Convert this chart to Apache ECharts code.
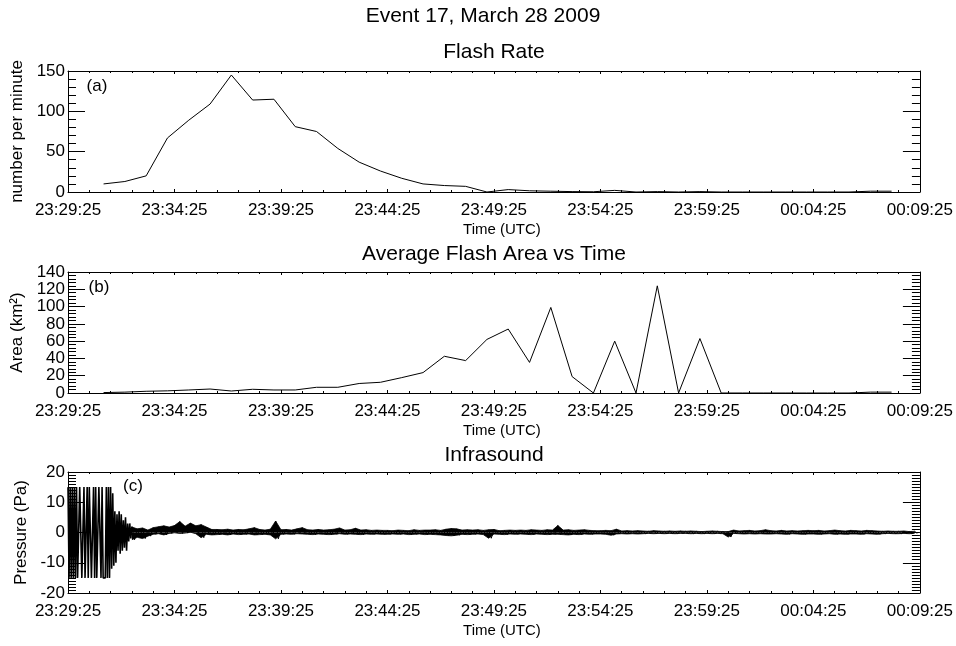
<!DOCTYPE html>
<html>
<head>
<meta charset="utf-8">
<title>Event 17, March 28 2009</title>
<script src="https://cdn.jsdelivr.net/npm/echarts@6/dist/echarts.min.js"></script>
<style>
  html, body { margin: 0; padding: 0; background: #fff; }
  #main { width: 956px; height: 646px; }
</style>
</head>
<body>
<div id="main"></div>
<script>
// x axis is minutes after 23:29:25 UTC
var timeLabels = ['23:29:25', '23:34:25', '23:39:25', '23:44:25', '23:49:25',
                  '23:54:25', '23:59:25', '00:04:25', '00:09:25'];

// (a) flash rate and (b) flash area, one value per minute starting 23:31:05
var lmaStart = 1.67;
var flashRate = [10, 13, 20, 67, 89, 109, 145, 114, 115, 81, 75, 54, 37, 26, 17, 10,
                 8, 7, 0, 3, 1.5, 1, 0.5, 0.3, 2, 0, 0.5, 0, 0.5, 0, 0, 0, 0, 0, 0, 0, 1, 1];
var flashArea = [0.5, 1, 2, 2.5, 3.5, 4.6, 2.3, 4.3, 3.5, 3.5, 6.6, 6.6, 11, 12.4, 17.8, 23.6,
                 42.5, 37.5, 62, 74, 35.4, 99, 19, 0, 60, 0, 124, 0, 63, 0, 0, 0, 0, 0, 0, 0, 1, 1];

// (c) infrasound: clipped burst at the start, every 3 s
var burstStep = 0.05;
var burstPa = [15, -15, 15, -15, 15, -15, 15, -15, 15, -15, -15, 15, 15, -15, -15, 15,
               -15, -15, 15, -15, 15, 15, -15, -15, 15, -15, 15, -15, -15, 15, 15, -15,
               15, -15, -15, -15, 15, -15, 15, -15, 15, -12, 13, -11, 7, -10, 6, -6,
               7, -7, 6, -6, 4, -5, 5, -6, 3, -3, 3, -2, 2];

// after that: high / low of the trace every 15 s from 3.0 min
var noiseStart = 3.0;
var noiseStep = 0.25;
var noiseHi = [1.8, 1.2, 1.5, 0.8, 1.6, 1.9, 2.2, 1.8,
               2.3, 3.6, 2.1, 3.1, 2.2, 2.6, 1.8, 1.0,
               1.0, 0.9, 1.1, 0.8, 1.0, 0.9, 1.2, 1.6,
               1.0, 0.8, 1.1, 3.8, 0.9, 1.0, 0.8, 1.2,
               1.6, 0.9, 0.8, 1.0, 0.8, 0.9, 1.1, 1.5,
               0.8, 0.9, 1.4, 0.8, 0.9, 0.7, 0.8, 0.7,
               0.7, 0.6, 0.8, 0.7, 0.6, 0.9, 0.7, 0.8,
               0.8, 0.9, 0.7, 1.1, 1.3, 1.2, 0.8, 0.9,
               0.8, 0.9, 0.7, 0.9, 1.0, 0.6, 0.7, 0.8,
               0.7, 0.8, 0.7, 0.9, 0.8, 0.7, 0.9, 0.8,
               2.3, 0.8, 0.9, 0.7, 0.8, 0.9, 0.7, 0.6,
               0.6, 0.7, 0.6, 1.1, 0.5, 0.6, 0.5, 0.6,
               0.5, 0.4, 0.6, 0.5, 0.4, 0.5, 0.4, 0.5,
               0.4, 0.5, 0.4, 0.3, 0.4, 0.5, 0.4, 0.3,
               0.3, 0.8, 0.5, 0.6, 0.7, 0.5, 0.6, 0.9,
               0.6, 0.5, 0.7, 0.5, 0.6, 0.5, 0.6, 0.7,
               0.6, 0.7, 0.5, 0.6, 0.8, 0.6, 0.5, 0.7,
               0.6, 0.5, 0.7, 0.6, 0.5, 0.4, 0.5, 0.4,
               0.4, 0.5, 0.3, 0.4];
var noiseLo = [-2.4, -1.6, -2.0, -1.2, -0.6, -0.4, -0.8, -0.3,
               -0.1, -0.3, -0.2, 0.1, -0.4, -1.7, -0.6, -0.8,
               -0.7, -0.6, -0.8, -0.5, -0.7, -0.6, -0.5, -0.8,
               -0.7, -0.6, -0.8, -2.1, -0.6, -0.5, -0.6, -0.4,
               -0.5, -0.6, -0.7, -0.5, -0.6, -0.7, -0.6, -0.4,
               -0.6, -0.5, -0.6, -0.7, -0.5, -0.6, -0.5, -0.6,
               -0.6, -0.5, -0.6, -0.5, -0.7, -0.6, -0.5, -0.7,
               -0.6, -0.7, -0.8, -1.0, -1.1, -0.9, -0.6, -0.7,
               -0.6, -0.5, -0.7, -1.9, -0.5, -0.6, -0.7, -0.5,
               -0.6, -0.5, -0.6, -0.7, -0.5, -0.6, -0.7, -0.6,
               -0.6, -0.7, -0.8, -0.6, -0.7, -0.5, -0.6, -0.5,
               -0.5, -0.6, -0.9, -0.5, -0.4, -0.5, -0.4, -0.5,
               -0.4, -0.3, -0.4, -0.3, -0.4, -0.3, -0.4, -0.3,
               -0.3, -0.4, -0.3, -0.4, -0.3, -0.4, -0.3, -0.4,
               -1.5, -0.3, -0.4, -0.5, -0.4, -0.5, -0.4, -0.5,
               -0.5, -0.4, -0.5, -0.6, -0.4, -0.5, -0.6, -0.5,
               -0.5, -0.6, -0.5, -0.4, -0.6, -0.5, -0.6, -0.5,
               -0.5, -0.6, -0.4, -0.5, -0.6, -0.4, -0.3, -0.4,
               -0.4, -0.3, -0.4, -0.3];

var FONT = '"Liberation Sans", Arial, Helvetica, sans-serif';

var rateData = flashRate.map(function (v, i) { return [lmaStart + i, v]; });
var areaData = flashArea.map(function (v, i) { return [lmaStart + i, v]; });
var burstData = burstPa.map(function (v, i) { return [i * burstStep, v]; });
var noiseData = [];
noiseHi.forEach(function (v, i) {
    var t = noiseStart + i * noiseStep;
    noiseData.push([t, v]);
    noiseData.push([t + noiseStep / 2, noiseLo[i]]);
});
// envelope of the noisy part: both halves filled to zero so the trace reads as a band
var envHi = noiseHi.map(function (v, i) { return [noiseStart + i * noiseStep, v]; });
var envLo = noiseLo.map(function (v, i) { return [noiseStart + i * noiseStep, v]; });

var grids = [
    { left: 68, right: 36, top: 71, height: 121 },
    { left: 68, right: 36, top: 272, height: 121 },
    { left: 68, right: 36, top: 472, height: 121 }
];

function xAxisFor(g, pos) {
    return {
        type: 'value', gridIndex: g, position: pos,
        min: 0, max: 40, interval: 5,
        axisLine: { show: true, onZero: false, lineStyle: { color: '#000', width: 1 } },
        axisTick: { show: true, inside: true, length: 3, lineStyle: { color: '#000' } },
        minorTick: { show: true, splitNumber: 5, length: 2, lineStyle: { color: '#000' } },
        splitLine: { show: false },
        axisLabel: {
            show: pos === 'bottom', margin: 10, color: '#000', fontSize: 17, fontFamily: FONT,
            formatter: function (v) { return timeLabels[Math.round(v / 5)]; }
        },
        name: pos === 'bottom' ? 'Time (UTC)' : '',
        nameLocation: 'middle', nameGap: 30,
        // left padding nudges the title a little right of the plot centre, like the original
        nameTextStyle: { color: '#000', fontSize: 15, fontFamily: FONT, padding: [0, 0, 0, 16] }
    };
}

function yAxisFor(g, pos, min, max, step, minor, name, nameGap) {
    return {
        type: 'value', gridIndex: g, position: pos,
        min: min, max: max, interval: step,
        axisLine: { show: true, onZero: false, lineStyle: { color: '#000', width: 1 } },
        axisTick: { show: true, inside: true, length: 17, lineStyle: { color: '#000' } },
        minorTick: { show: true, splitNumber: minor, length: 8, lineStyle: { color: '#000' } },
        splitLine: { show: false },
        axisLabel: { show: pos === 'left', margin: 3, color: '#000', fontSize: 17, fontFamily: FONT },
        name: pos === 'left' ? name : '',
        nameLocation: 'middle', nameGap: nameGap, nameRotate: 90,
        nameTextStyle: { color: '#000', fontSize: 17, fontFamily: FONT }
    };
}

var xAxes = [], yAxes = [];
for (var g = 0; g < 3; g++) {
    xAxes.push(xAxisFor(g, 'bottom'));
    xAxes.push(xAxisFor(g, 'top'));
}
yAxes.push(yAxisFor(0, 'left', 0, 150, 50, 5, 'number per minute', 42));
yAxes.push(yAxisFor(0, 'right', 0, 150, 50, 5, '', 42));
yAxes.push(yAxisFor(1, 'left', 0, 140, 20, 5, 'Area (km\u00B2)', 36));
yAxes.push(yAxisFor(1, 'right', 0, 140, 20, 5, '', 36));
yAxes.push(yAxisFor(2, 'left', -20, 20, 10, 10, 'Pressure (Pa)', 36));
yAxes.push(yAxisFor(2, 'right', -20, 20, 10, 10, '', 36));

function lineSeries(xi, data, width) {
    return {
        type: 'line', xAxisIndex: xi, yAxisIndex: xi, data: data,
        showSymbol: false, symbol: 'none', silent: true,
        lineStyle: { color: '#000', width: width || 1 }
    };
}

function envSeries(data) {
    return {
        type: 'line', xAxisIndex: 4, yAxisIndex: 4, data: data,
        symbol: 'none', silent: true,
        lineStyle: { color: '#000', width: 0.8 },
        areaStyle: { color: '#000', opacity: 1, origin: 0 }
    };
}

function label(text, x, y, size) {
    return {
        type: 'text', x: x, y: y, silent: true,
        style: { text: text, fill: '#000', font: size + 'px ' + FONT,
                 align: 'center', verticalAlign: 'middle',
                 textAlign: 'center', textVerticalAlign: 'middle' }
    };
}

var chart = echarts.init(document.getElementById('main'));
chart.setOption({
    animation: false,
    backgroundColor: '#fff',
    grid: grids,
    xAxis: xAxes,
    yAxis: yAxes,
    series: [
        lineSeries(0, rateData),
        lineSeries(2, areaData),
        envSeries(envHi),
        envSeries(envLo),
        lineSeries(4, burstData.concat(noiseData.slice(0, 1)), 1.6),
        lineSeries(4, noiseData)
    ],
    graphic: [
        label('Event 17, March 28 2009', 483, 16, 21),
        label('Flash Rate', 494, 52, 21),
        label('Average Flash Area vs Time', 494, 254, 21),
        label('Infrasound', 494, 455, 21),
        label('(a)', 97, 86, 17),
        label('(b)', 99, 287, 17),
        label('(c)', 133, 486, 17)
    ]
});
</script>
</body>
</html>
